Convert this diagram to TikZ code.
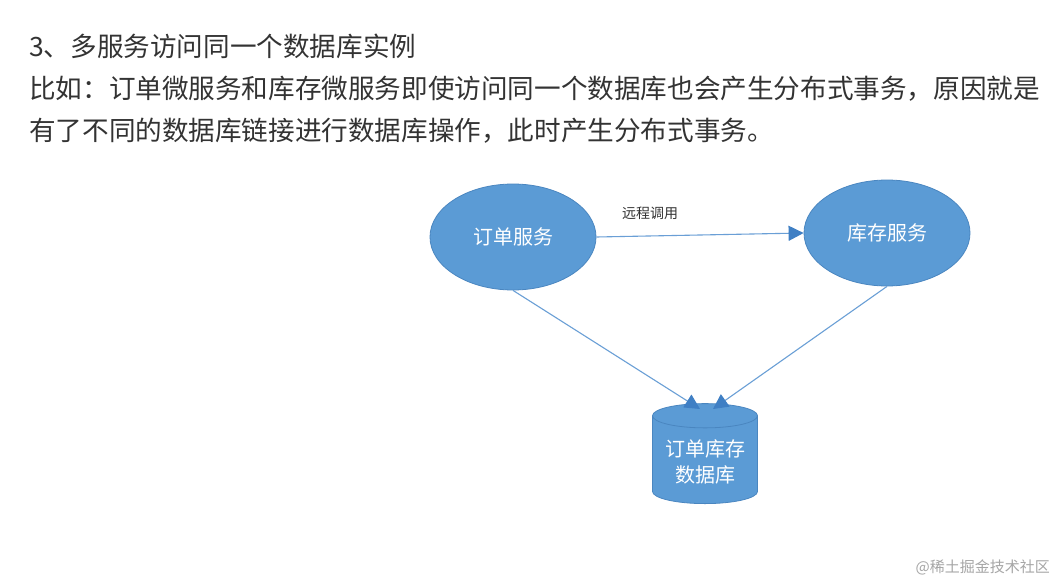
\documentclass[tikz,border=0pt]{standalone}
\usepackage{fontspec}
\setmainfont{Noto Sans CJK SC}
\usetikzlibrary{shapes.geometric,arrows.meta}
\definecolor{txt}{HTML}{333333}
\definecolor{fillblue}{HTML}{5B9BD5}
\definecolor{edgeblue}{HTML}{4A86C0}
\definecolor{headblue}{HTML}{3F7FC4}
\definecolor{lineblue}{HTML}{6A9FD6}
\tikzset{
  para/.style={anchor=west, inner sep=0pt, text=txt, font=\fontsize{26.6pt}{30pt}\selectfont},
  svc/.style={ellipse, fill=fillblue, draw=edgeblue, line width=0.8pt, minimum width=166pt, minimum height=106pt, text=white, font=\fontsize{20pt}{24pt}\selectfont},
  dbshape/.style={cylinder, shape border rotate=90, aspect=0.28, fill=fillblue, draw=edgeblue, line width=0.8pt, minimum width=105pt, minimum height=100pt, text=white, align=center, font=\fontsize{20pt}{30pt}\selectfont},
  conn/.style={draw=lineblue, line width=1.1pt, -{Triangle[length=15pt,width=15pt,color=headblue,fill=headblue]}},
}
\begin{document}
\begin{tikzpicture}[x=1pt,y=-1pt]
\useasboundingbox[fill=white] (0,0) rectangle (1060,583);
\node[para] (l1) at (29,46) {3、多服务访问同一个数据库实例};
\node[para] (l2) at (29,89) {比如：订单微服务和库存微服务即使访问同一个数据库也会产生分布式事务，原因就是};
\node[para] (l3) at (29,131) {有了不同的数据库链接进行数据库操作，此时产生分布式事务。};
\node[svc] (order) at (513,237) {订单服务};
\node[svc] (stock) at (887,233) {库存服务};
\node[dbshape] (db) at (705,462) {订单库存\\[-4pt]数据库};
\coordinate (in1) at (700,409);
\coordinate (in2) at (713,409);
\draw[conn] (order.south) -- (in1);
\draw[conn] (stock.south) -- (in2);
\draw[conn] (order.east) -- (stock.west);
\node[text=txt, font=\fontsize{14pt}{16pt}\selectfont, inner sep=0pt] (lab) at (650,213) {远程调用};
\node[text=black!35, font=\fontsize{15pt}{18pt}\selectfont, anchor=east, inner sep=0pt] (wm) at (1050,567) {@稀土掘金技术社区};
\end{tikzpicture}
\end{document}
